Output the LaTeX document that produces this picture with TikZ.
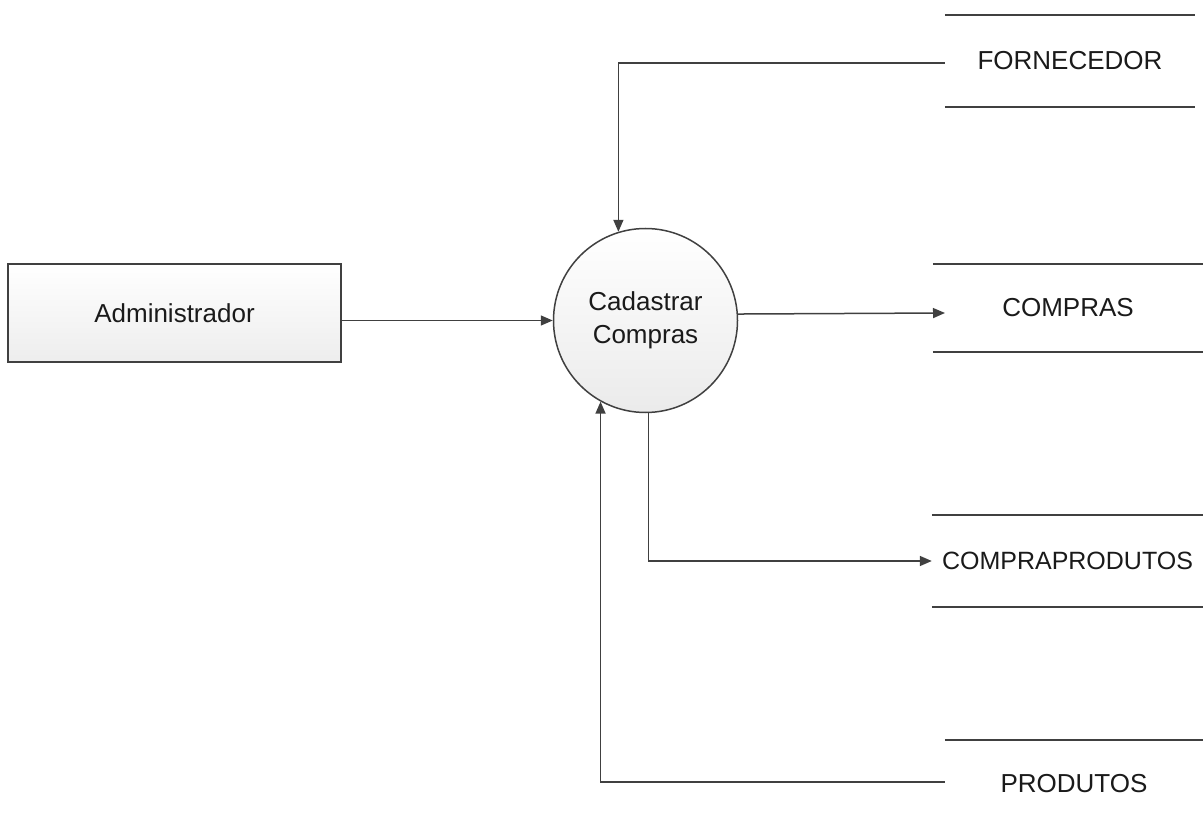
\documentclass[tikz,border=0pt]{standalone}
\usepackage{fontspec}
\setmainfont{Liberation Sans}
\usetikzlibrary{arrows.meta}
\definecolor{ln}{HTML}{404040}
\definecolor{tx}{HTML}{1A1A1A}
\begin{document}
\begin{tikzpicture}[x=1pt,y=-1pt,
  every node/.style={font=\fontsize{26}{31}\selectfont, text=tx},
  entity/.style={draw=ln, line width=1.5pt, rectangle, top color=white, bottom color=gray!14, minimum width=333pt, minimum height=98pt},
  proc/.style={draw=ln, line width=1.5pt, circle, top color=white, bottom color=gray!16, minimum size=184pt, align=center, inner sep=0pt},
  store/.style={rectangle, inner sep=0pt},
  sline/.style={draw=ln, line width=1.7pt},
  flow/.style={draw=ln, line width=1.5pt, -{Triangle[length=12pt,width=10pt]}}]
\useasboundingbox (0,0) rectangle (1203,826);
\node[entity] (adm) at (174.5,313) {Administrador};
\node[proc] (cc) at (645.5,320.5) {Cadastrar\\[2pt]Compras};
\node[store, minimum width=250pt, minimum height=92pt] (forn) at (1070,61) {FORNECEDOR};
\node[store, minimum width=270pt, minimum height=88pt] (cmp) at (1068,308) {COMPRAS};
\node[store, minimum width=271pt, minimum height=92pt, font=\fontsize{25}{30}\selectfont] (cpp) at (1067.5,561) {COMPRAPRODUTOS};
\node[store, minimum width=258pt, minimum height=88pt] (prod) at (1074,784) {PRODUTOS};
% store lines
\draw[sline] (forn.north west) -- (forn.north east);
\draw[sline] (forn.south west) -- (forn.south east);
\draw[sline] (cmp.north west) -- (cmp.north east);
\draw[sline] (cmp.south west) -- (cmp.south east);
\draw[sline] (cpp.north west) -- (cpp.north east);
\draw[sline] (cpp.south west) -- (cpp.south east);
\draw[sline] (prod.north west) -- (prod.north east);
% connectors
\coordinate (cmpin) at (945,313);
\draw[flow] (adm.east |- cc.west) -- (cc.west);
\draw[flow] ([yshift=-2pt]forn.west) -| (cc.107);
\draw[flow] (cc.4) -- (cmpin);
\draw[flow] (cc.-88) |- (cpp.west);
\draw[flow] ([yshift=2pt]prod.west) -| (cc.241);
\end{tikzpicture}
\end{document}
